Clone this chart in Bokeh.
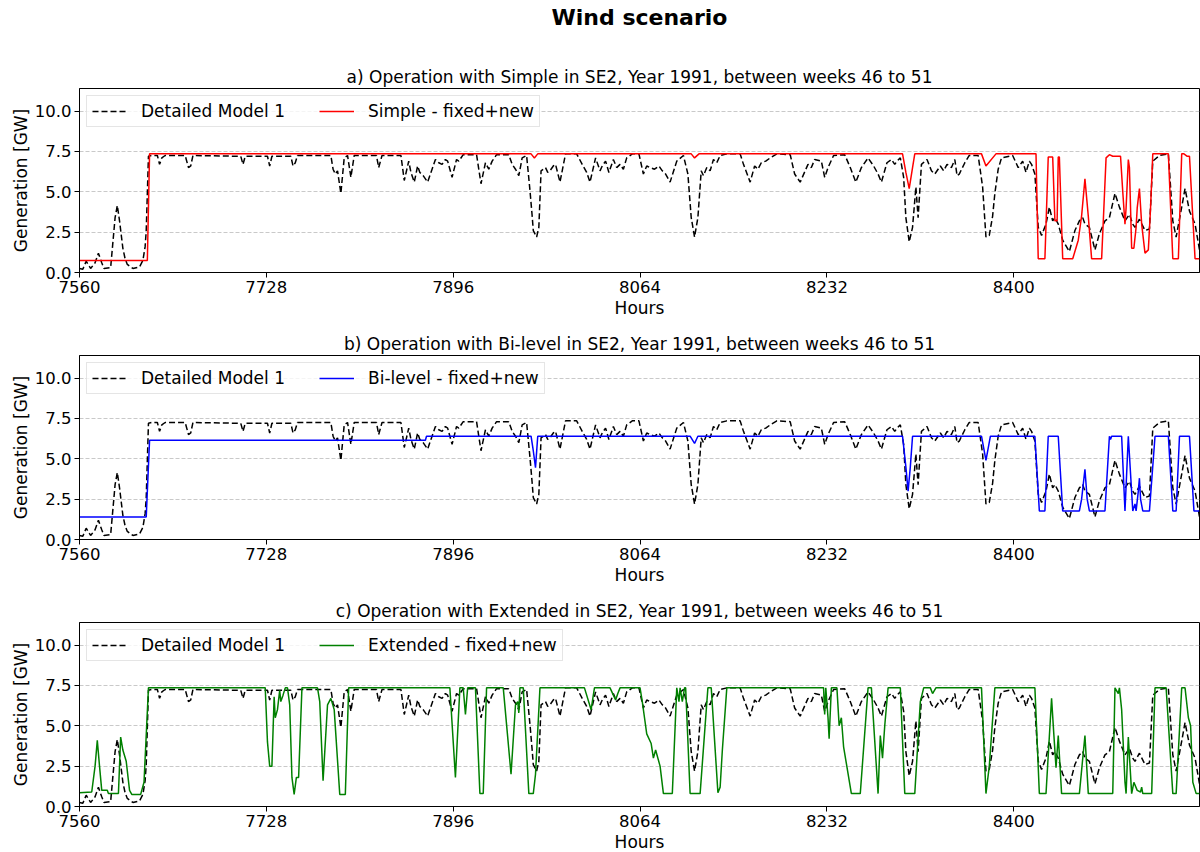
from bokeh.plotting import figure
from bokeh.models import FixedTicker, PrintfTickFormatter, Range1d, Legend, LegendItem, Title
from bokeh.layouts import column
from bokeh.embed import file_html
from bokeh.resources import INLINE

# ---------------- data ----------------
x_ticks = [7560, 7728, 7896, 8064, 8232, 8400]
y_ticks = [0, 2.5, 5.0, 7.5, 10.0]

detailed_hours = [
    7560, 7563, 7566, 7570, 7574, 7577, 7580, 7582, 7588, 7592, 7594, 7596, 7599, 7601, 7603, 7608,
    7614, 7617, 7619, 7620, 7622, 7625, 7630, 7632, 7634, 7637, 7655, 7658, 7660, 7662, 7705, 7707,
    7709, 7729, 7731, 7733, 7750, 7752, 7754, 7756, 7786, 7788, 7790, 7792, 7795, 7798, 7801, 7804,
    7807, 7827, 7829, 7832, 7849, 7852, 7856, 7858, 7861, 7864, 7866, 7869, 7873, 7877, 7880, 7883,
    7886, 7889, 7891, 7895, 7899, 7901, 7905, 7917, 7921, 7925, 7928, 7931, 7935, 7946, 7949, 7952,
    7955, 7958, 7962, 7965, 7967, 7968, 7971, 7973, 7975, 7979, 7981, 7983, 7986, 7988, 7992, 7997,
    8007, 8012, 8016, 8019, 8024, 8028, 8030, 8033, 8036, 8040, 8043, 8046, 8049, 8052, 8057, 8063,
    8067, 8070, 8073, 8077, 8081, 8084, 8087, 8091, 8097, 8103, 8107, 8110, 8113, 8116, 8119, 8121,
    8124, 8127, 8130, 8133, 8136, 8142, 8154, 8157, 8163, 8167, 8170, 8173, 8177, 8181, 8187, 8199,
    8203, 8208, 8215, 8218, 8221, 8227, 8230, 8233, 8238, 8248, 8253, 8258, 8263, 8269, 8274, 8278,
    8281, 8286, 8290, 8293, 8295, 8298, 8301, 8303, 8306, 8309, 8312, 8314, 8317, 8322, 8326, 8329,
    8334, 8337, 8340, 8344, 8347, 8349, 8351, 8356, 8360, 8368, 8372, 8375, 8378, 8381, 8383, 8386,
    8389, 8399, 8404, 8408, 8411, 8414, 8416, 8419, 8422, 8425, 8429, 8432, 8435, 8437, 8440, 8444,
    8450, 8455, 8459, 8462, 8464, 8468, 8473, 8477, 8482, 8486, 8491, 8495, 8500, 8504, 8507, 8509,
    8513, 8518, 8522, 8525, 8531, 8539, 8543, 8546, 8551, 8554, 8558, 8563, 8567]
detailed_gen = [
    0.25, 0.2, 0.7, 0.25, 0.6, 1.2, 0.6, 0.25, 0.3, 3.4, 4.15, 3.2, 1.5, 0.85, 0.5, 0.25,
    0.35, 0.75, 1.6, 2.6, 7.2, 7.25, 7.25, 6.7, 7.1, 7.25, 7.25, 6.5, 6.6, 7.25, 7.2, 6.7,
    7.2, 7.2, 6.6, 7.2, 7.2, 6.6, 6.8, 7.25, 7.25, 6.4, 6.1, 6.3, 4.9, 7.1, 7.25, 5.9,
    7.25, 7.25, 6.5, 7.25, 7.25, 5.7, 6.9, 6.2, 5.6, 6.6, 6.2, 6.0, 5.6, 6.4, 7.0, 6.8,
    6.7, 7.0, 6.9, 5.9, 7.0, 6.9, 7.3, 7.3, 5.5, 6.8, 6.4, 6.9, 7.3, 7.3, 6.7, 6.4,
    6.0, 7.1, 7.25, 5.1, 3.5, 2.6, 2.2, 2.8, 6.3, 6.5, 6.2, 6.3, 6.6, 6.7, 5.6, 7.35,
    7.35, 6.7, 6.2, 5.6, 7.1, 6.3, 6.6, 6.9, 6.2, 7.0, 6.5, 6.7, 6.4, 7.1, 7.35, 7.35,
    6.1, 6.6, 6.5, 6.4, 6.6, 6.3, 6.1, 5.6, 6.9, 7.25, 6.1, 3.4, 2.2, 3.4, 6.3, 6.0,
    6.5, 6.3, 7.0, 6.8, 7.25, 7.35, 7.35, 6.7, 5.6, 6.6, 6.4, 6.8, 6.9, 7.1, 7.35, 7.3,
    6.1, 5.6, 6.7, 6.5, 7.0, 6.9, 5.9, 6.5, 7.25, 7.3, 6.5, 5.6, 6.5, 7.1, 6.6, 6.1,
    5.6, 6.8, 7.0, 6.7, 6.9, 7.1, 5.9, 3.4, 1.9, 2.8, 5.3, 3.4, 6.7, 7.0, 6.3, 6.1,
    6.6, 6.3, 6.7, 6.5, 7.0, 6.0, 6.1, 6.8, 7.25, 7.25, 5.3, 2.2, 2.3, 3.5, 4.9, 6.4,
    7.1, 7.25, 6.5, 6.9, 6.2, 6.9, 6.7, 6.1, 2.8, 2.3, 3.0, 4.05, 3.2, 3.4, 3.0, 2.0,
    1.3, 2.6, 3.2, 3.4, 3.0, 2.8, 1.4, 2.4, 3.2, 3.4, 4.9, 4.05, 3.2, 3.6, 3.0, 2.8,
    3.3, 2.6, 2.7, 6.9, 7.25, 7.35, 3.2, 2.2, 4.05, 5.2, 3.8, 3.0, 1.4]

simple_hours = [
    7560, 7621, 7623, 7966, 7969, 7972, 8110, 8113, 8117, 8300, 8303, 8306, 8309, 8311, 8371, 8375,
    8384, 8420, 8422, 8428, 8431, 8435, 8437, 8439, 8440, 8441, 8444, 8453, 8458, 8461, 8464, 8467,
    8470, 8479, 8483, 8486, 8489, 8496, 8498, 8500, 8501, 8503, 8504, 8506, 8508, 8510, 8511, 8513,
    8515, 8518, 8521, 8523, 8525, 8539, 8543, 8548, 8551, 8553, 8556, 8558, 8563, 8567]
simple_gen = [
    0.75, 0.75, 7.35, 7.35, 7.1, 7.35, 7.35, 7.1, 7.35, 7.35, 6.2, 5.2, 6.5, 7.35, 7.35, 6.6,
    7.35, 7.35, 0.85, 0.85, 7.15, 7.15, 3.2, 3.2, 7.15, 7.15, 0.85, 0.85, 2.0, 3.5, 5.8, 3.5,
    0.85, 0.85, 7.1, 7.3, 7.2, 7.2, 5.0, 3.0, 4.0, 7.0, 6.5, 1.5, 1.5, 2.8, 4.0, 5.2,
    3.0, 1.2, 1.4, 4.0, 7.35, 7.35, 0.85, 0.85, 7.35, 7.35, 7.2, 7.2, 0.85, 0.85]

bilevel_hours = [
    7560, 7620, 7623, 7871, 7872, 7966, 7968, 7970, 7972, 8109, 8113, 8116, 8300, 8303, 8305, 8307,
    8309, 8371, 8375, 8379, 8419, 8423, 8428, 8431, 8440, 8444, 8459, 8461, 8464, 8466, 8468, 8482,
    8486, 8487, 8488, 8497, 8500, 8503, 8507, 8509, 8510, 8512, 8513, 8514, 8516, 8522, 8527, 8539,
    8543, 8546, 8549, 8558, 8562, 8567]
bilevel_gen = [
    1.4, 1.4, 6.15, 6.15, 6.4, 6.4, 5.5, 4.45, 6.4, 6.4, 5.95, 6.4, 6.4, 4.5, 3.0, 4.5,
    6.4, 6.4, 4.9, 6.4, 6.4, 1.77, 1.77, 6.4, 6.4, 1.77, 1.77, 2.5, 4.35, 2.5, 1.77, 1.77,
    6.4, 6.2, 6.4, 6.4, 1.77, 6.4, 1.77, 2.2, 1.77, 3.0, 3.8, 2.5, 1.77, 1.77, 6.4, 6.4,
    1.77, 1.77, 6.4, 6.4, 1.77, 1.77]

extended_hours = [
    7560, 7571, 7574, 7576, 7578, 7580, 7585, 7586, 7595, 7597, 7599, 7602, 7605, 7607, 7615, 7618,
    7622, 7727, 7729, 7731, 7733, 7735, 7736, 7738, 7740, 7741, 7743, 7745, 7747, 7749, 7751, 7753,
    7755, 7757, 7760, 7774, 7776, 7779, 7783, 7786, 7789, 7794, 7799, 7802, 7893, 7898, 7902, 7905,
    7907, 7909, 7916, 7920, 7923, 7926, 7941, 7948, 7952, 7954, 7955, 7956, 7959, 7964, 7968, 7970,
    7974, 8014, 8020, 8023, 8037, 8040, 8042, 8044, 8046, 8064, 8066, 8068, 8070, 8074, 8076, 8078,
    8082, 8085, 8093, 8097, 8099, 8100, 8102, 8104, 8105, 8109, 8118, 8125, 8128, 8134, 8136, 8138,
    8142, 8229, 8230, 8231, 8233, 8234, 8236, 8241, 8243, 8245, 8247, 8254, 8262, 8269, 8272, 8278,
    8280, 8282, 8284, 8287, 8298, 8302, 8311, 8316, 8319, 8325, 8327, 8330, 8371, 8375, 8378, 8383,
    8419, 8423, 8429, 8434, 8436, 8438, 8440, 8443, 8459, 8464, 8467, 8489, 8491, 8494, 8495, 8497,
    8500, 8501, 8503, 8506, 8508, 8511, 8514, 8515, 8516, 8524, 8527, 8537, 8543, 8546, 8551, 8554,
    8557, 8559, 8561, 8564, 8567]
extended_gen = [
    0.85, 0.9, 2.5, 4.1, 2.5, 1.0, 1.0, 0.8, 0.8, 4.3, 3.5, 2.8, 1.0, 0.75, 0.75, 1.5,
    7.35, 7.35, 4.0, 2.5, 2.5, 6.8, 5.5, 6.0, 7.2, 6.5, 6.9, 7.35, 7.35, 6.3, 1.8, 0.75,
    1.8, 1.8, 7.35, 7.35, 6.5, 1.6, 6.3, 6.7, 6.0, 0.75, 0.75, 7.35, 7.35, 1.8, 7.35, 7.35,
    5.7, 7.35, 7.35, 0.8, 0.8, 7.35, 7.35, 2.0, 6.3, 6.5, 5.8, 7.35, 7.35, 0.8, 0.8, 2.0,
    7.35, 7.35, 6.0, 7.35, 7.35, 6.9, 6.6, 7.0, 7.35, 7.35, 6.5, 5.5, 4.5, 3.9, 3.0, 3.5,
    2.5, 0.8, 0.8, 7.35, 6.5, 7.35, 6.5, 7.35, 7.35, 0.8, 0.8, 7.35, 7.35, 0.85, 1.2, 3.5,
    7.35, 7.35, 5.7, 7.35, 5.5, 4.2, 7.35, 7.35, 5.0, 5.5, 3.7, 0.8, 0.8, 7.35, 7.35, 0.8,
    4.4, 3.0, 5.0, 7.35, 7.35, 0.8, 0.8, 6.5, 7.35, 7.35, 7.0, 7.35, 7.35, 0.8, 2.5, 7.35,
    7.35, 0.8, 0.8, 6.7, 4.5, 2.4, 4.4, 0.8, 0.8, 4.4, 0.8, 0.8, 7.35, 7.0, 7.35, 6.0,
    1.5, 0.8, 4.3, 0.8, 1.5, 1.0, 0.9, 1.2, 0.8, 0.8, 7.35, 7.35, 0.8, 0.8, 7.35, 7.35,
    5.5, 5.0, 1.5, 0.8, 0.8]

panels = [
    ("a) Operation with Simple in SE2, Year 1991, between weeks 46 to 51",
     simple_hours, simple_gen, "#ff0000", "Simple - fixed+new"),
    ("b) Operation with Bi-level in SE2, Year 1991, between weeks 46 to 51",
     bilevel_hours, bilevel_gen, "#0000ff", "Bi-level - fixed+new"),
    ("c) Operation with Extended in SE2, Year 1991, between weeks 46 to 51",
     extended_hours, extended_gen, "#008000", "Extended - fixed+new"),
]

FONT = "DejaVu Sans"


def style_title(t, size="17px", bold=False, standoff=4):
    t.align = "center"
    t.text_font = FONT
    t.text_font_size = size
    t.text_font_style = "bold" if bold else "normal"
    t.text_color = "black"
    t.standoff = standoff


def make_panel(title, hrs, gen, color, label, top, bottom, main_title=None):
    p = figure(frame_width=1120, frame_height=184,
               x_range=Range1d(7560, 8567), y_range=Range1d(0, 11.4),
               min_border_left=79, min_border_right=1,
               min_border_top=top, min_border_bottom=bottom,
               output_backend="svg", toolbar_location=None)
    if main_title is None:
        p.title.text = title
        style_title(p.title)
    else:
        # 'above' list is stacked from the frame outward; p.title is outermost
        p.title.text = main_title
        style_title(p.title, size="22px", bold=True, standoff=4)
        sub = Title(text=title)
        style_title(sub)
        p.add_layout(sub, "above")
        spacer = Title(text=" ")
        style_title(spacer, size="10px", standoff=18)
        p.add_layout(spacer, "above")

    r1 = p.line(detailed_hours, detailed_gen, line_color="black", line_width=1.5, line_dash="6 3")
    r2 = p.line(hrs, gen, line_color=color, line_width=1.5)

    p.xaxis.ticker = FixedTicker(ticks=x_ticks, minor_ticks=[])
    p.yaxis.ticker = FixedTicker(ticks=y_ticks, minor_ticks=[])
    p.yaxis.formatter = PrintfTickFormatter(format="%.1f")
    p.xaxis.axis_label = "Hours"
    p.yaxis.axis_label = "Generation [GW]"
    for ax in (p.xaxis, p.yaxis):
        ax.axis_label_text_font = FONT
        ax.axis_label_text_font_size = "17px"
        ax.axis_label_text_font_style = "normal"
        ax.axis_label_text_color = "black"
        ax.major_label_text_font = FONT
        ax.major_label_text_font_size = "16.5px"
        ax.major_label_text_color = "black"
        ax.major_tick_in = 0
        ax.major_tick_out = 5
        ax.minor_tick_in = 0
        ax.minor_tick_out = 0
        ax.axis_line_color = "black"
        ax.major_tick_line_color = "black"
        ax.major_label_standoff = 3
    p.xaxis.axis_label_standoff = 2
    p.yaxis.axis_label_standoff = 1

    p.xgrid.visible = False
    p.ygrid.grid_line_color = "#bbbbbb"
    p.ygrid.grid_line_dash = "4 2"
    p.ygrid.grid_line_width = 0.8
    p.outline_line_color = "black"
    p.outline_line_alpha = 1.0
    p.background_fill_color = "white"

    legend = Legend(items=[LegendItem(label="Detailed Model 1", renderers=[r1]),
                           LegendItem(label=label, renderers=[r2])],
                    location="top_left", orientation="horizontal")
    legend.label_text_font = FONT
    legend.label_text_font_size = "17px"
    legend.label_text_color = "black"
    legend.glyph_width = 35
    legend.glyph_height = 18
    legend.label_height = 18
    legend.label_standoff = 14
    legend.spacing = 34
    legend.padding = 5
    legend.margin = 7
    legend.border_line_color = "#cccccc"
    legend.border_line_width = 1
    legend.background_fill_alpha = 0.8
    p.add_layout(legend)
    return p


figs = []
tops = [88, 35, 35]
bottoms = [48, 48, 46]
for i, (t, h, g, c, lab) in enumerate(panels):
    figs.append(make_panel(t, h, g, c, lab, tops[i], bottoms[i],
                           main_title="Wind scenario" if i == 0 else None))

layout = column(*figs, spacing=0)
open("out.html", "w").write(file_html(layout, INLINE))
